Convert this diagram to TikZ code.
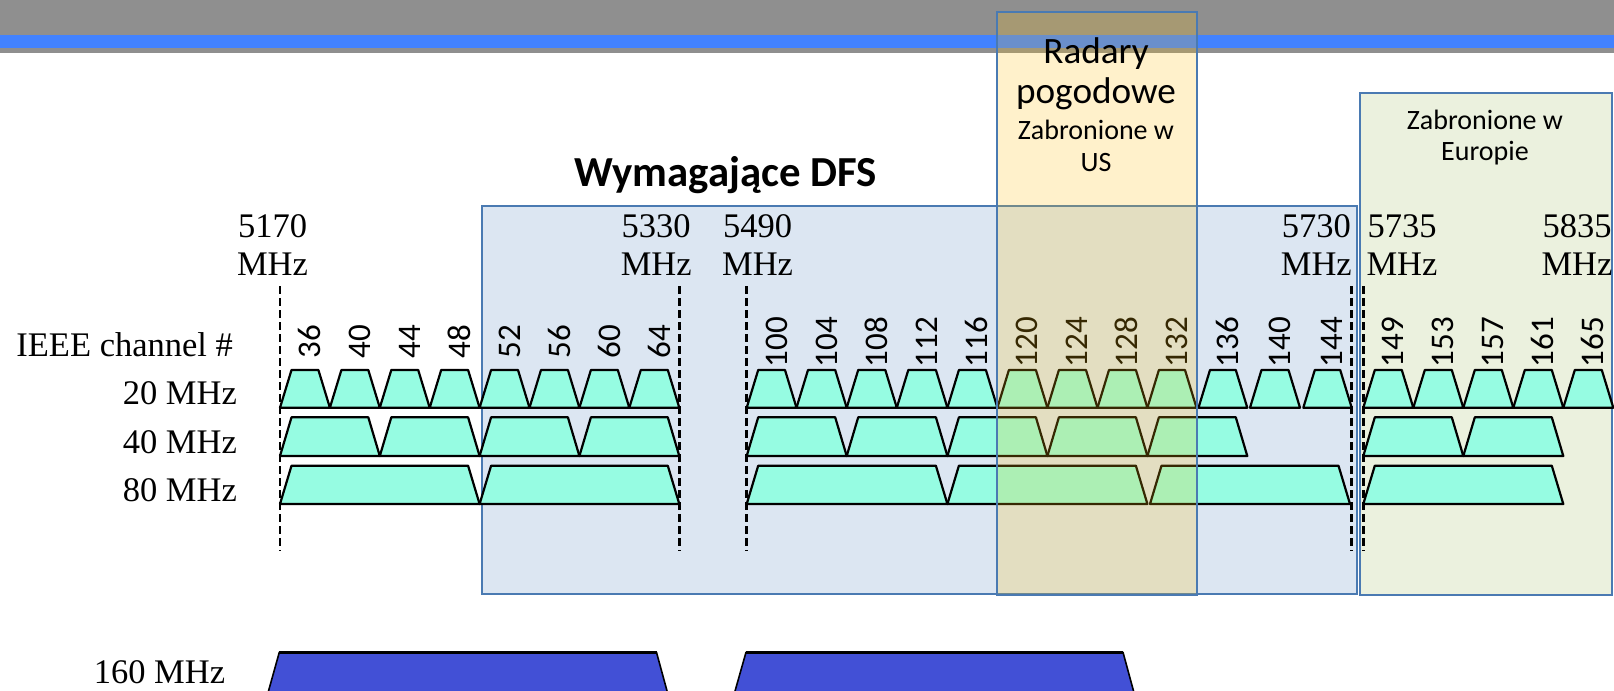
\documentclass[tikz,border=0pt]{standalone}
\usepackage{fontspec}
\setmainfont{Liberation Serif}
\newfontfamily\calfont{Carlito}
\definecolor{hdrgray}{RGB}{143,143,143}
\definecolor{hdrblue}{RGB}{66,130,255}
\definecolor{boxblue}{RGB}{74,122,178}
\definecolor{dfsfill}{RGB}{220,230,242}
\definecolor{eufill}{RGB}{235,241,222}
\definecolor{yelfill}{RGB}{255,193,12}
\definecolor{chancyan}{RGB}{150,252,226}
\definecolor{wideblue}{RGB}{66,80,214}
\newcommand\chtrap[4]{\draw[chan] (#1,#4) -- ({#1+11.5},#3) -- ({#2-11.5},#3) -- (#2,#4) -- cycle;}
\begin{document}
\begin{tikzpicture}[x=0.5pt,y=-0.5pt,
  chan/.style={draw=black, line width=1.1pt, fill=chancyan, line join=round},
  box/.style={draw=boxblue, line width=1pt},
  vdash/.style={draw=black, line width=1.25pt, dash pattern=on 4pt off 2pt},
  serif/.style={font=\fontsize{17.25}{20}\selectfont, inner sep=0pt},
  chnum/.style={font=\calfont\fontsize{16.5}{18}\selectfont, rotate=90, inner sep=0pt},
  small/.style={font=\calfont\fontsize{14}{16}\selectfont, inner sep=0pt},
  big/.style={font=\calfont\fontsize{18.6}{20}\selectfont, inner sep=0pt},
  wide/.style={draw=black, line width=0.8pt, fill=wideblue, line join=round}]
\useasboundingbox (0,0) rectangle (1614,691);
\clip (0,0) rectangle (1614,691);
\fill[white] (0,0) rectangle (1614,691);
% header
\fill[hdrgray] (0,0) rectangle (1614,52.5);
\fill[hdrblue] (0,34.5) rectangle (1614,48);
% background boxes
\draw[box, fill=dfsfill] (481.7,206) rectangle (1356.7,594);
\draw[box, fill=eufill] (1360,92.5) rectangle (1611.7,595);
% 20 MHz channels
\foreach \a/\b in {280/329.9,329.9/379.8,379.8/429.7,429.7/479.6,479.6/529.5,529.5/579.4,579.4/629.3,629.3/679.3,
  746.7/796.5,796.5/846.7,846.7/896.8,896.8/947.4,947.4/997.4,997.4/1047.4,1047.4/1097.5,1097.5/1147.4,1147.4/1196.5,
  1198.5/1247.3,1250/1300,1303.3/1351.7,
  1363.3/1413.3,1413.3/1463.3,1463.3/1513.3,1513.3/1563.3,1563.3/1613.3}
  {\chtrap{\a}{\b}{370}{407.7}}
% 40 MHz channels
\foreach \a/\b in {280/379.8,379.8/479.6,479.6/579.4,579.4/679.3,
  746.7/846.7,846.7/947.4,947.4/1047.4,1047.4/1147.4,1147.4/1247.3,
  1363.3/1463.3,1463.3/1563.3}
  {\chtrap{\a}{\b}{417.3}{456}}
% 80 MHz channels
\foreach \a/\b in {280/479.6,479.6/679.3,746.7/947.4,947.4/1147.4,1150/1350,1363.3/1563.3}
  {\chtrap{\a}{\b}{465.7}{504}}
% channel numbers
\foreach \c/\n in {305/36,355/40,405/44,455/48,505/52,555/56,605/60,655/64,
  772/100,822/104,872/108,922/112,972/116,1022/120,1072/124,1122/128,1172/132,
  1223/136,1275/140,1327/144,1388/149,1438/153,1488/157,1538/161,1588/165}
  {\node[chnum] (ch\n) at ({\c+4.5},342) {\n};}
% dashed boundary lines
\coordinate (d1t) at (280,286);   \coordinate (d1b) at (280,551);
\coordinate (d2t) at (679.3,286); \coordinate (d2b) at (679.3,551);
\coordinate (d3t) at (746.7,286); \coordinate (d3b) at (746.7,551);
\coordinate (d4t) at (1351.7,286); \coordinate (d4b) at (1351.7,551);
\coordinate (d5t) at (1363.3,286); \coordinate (d5b) at (1363.3,551);
\foreach \i in {1,...,5} {\draw[vdash] (d\i t) -- (d\i b);}
% weather radar overlay
\draw[box, fill=yelfill, fill opacity=0.21] (996.5,12) rectangle (1196.5,595);
% 160 MHz
\draw[wide] (266,700) -- (279.3,652.3) -- (656.5,652.3) -- (669.5,700);
\draw[wide] (732.5,700) -- (746,652.3) -- (1123,652.3) -- (1136,700);
\draw[line width=1.6pt] (279.3,652.3) -- (656.5,652.3);
\draw[line width=1.6pt] (746,652.3) -- (1123,652.3);
% left labels
\node[serif, anchor=base west] (ieee) at (16,356.7) {IEEE channel \#};
\node[serif, anchor=base east] (l20) at (237.3,404) {20 MHz};
\node[serif, anchor=base east] (l40) at (237.3,453.3) {40 MHz};
\node[serif, anchor=base east] (l80) at (237.3,501.7) {80 MHz};
\node[serif, anchor=base east] (l160) at (225.5,683.3) {160 MHz};
% frequency labels
\foreach \x/\f in {272.5/5170,656.2/5330,757.6/5490,1316.3/5730,1402/5735,1577/5835}
  {\node[serif, anchor=base] (f\f a) at (\x,237) {\f};
   \node[serif, anchor=base] (f\f b) at (\x,275) {MHz};}
% titles
\node[font=\calfont\bfseries\fontsize{21.4}{24}\selectfont, inner sep=0pt, anchor=base] (dfs) at (725.8,186) {Wymagające DFS};
\node[big, anchor=base] (rad1) at (1096,63) {Radary};
\node[big, anchor=base] (rad2) at (1096,103.5) {pogodowe};
\node[small, anchor=base] (us1) at (1096,139) {Zabronione w};
\node[small, anchor=base] (us2) at (1096,171) {US};
\node[small, anchor=base] (eu1) at (1485,129) {Zabronione w};
\node[small, anchor=base] (eu2) at (1485,160) {Europie};
\end{tikzpicture}
\end{document}
